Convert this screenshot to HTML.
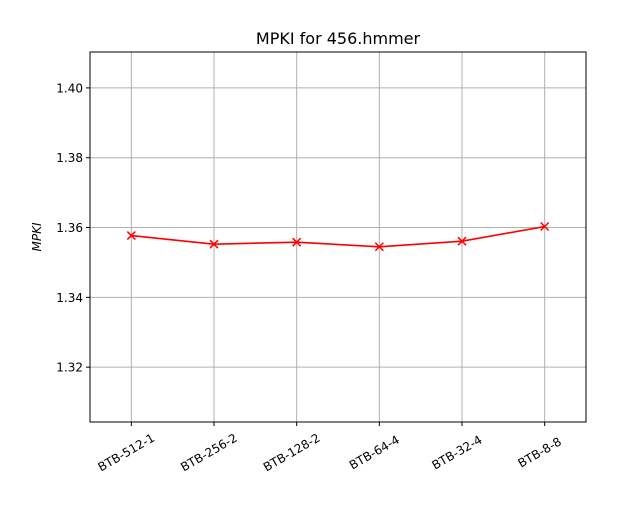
<!DOCTYPE html>
<html><head><meta charset="utf-8"><style>
body{margin:0;background:#fff;font-family:"Liberation Sans","DejaVu Sans",sans-serif;}
svg text{font-family:"DejaVu Sans","Liberation Sans",sans-serif;}
</style></head><body>
<svg id="chart" width="619" height="505" xmlns="http://www.w3.org/2000/svg">
<rect width="619" height="505" fill="#fff"/>
<text x="338" y="44" text-anchor="middle" font-size="16">MPKI for 456.hmmer</text>
<g id="grid"></g>
<g id="series"></g>
<rect x="90" y="52" width="496" height="370" fill="none" stroke="#000" stroke-width="1"/>
<g id="axes"></g>
<text transform="translate(41,237) rotate(-90)" text-anchor="middle" font-size="12" font-style="italic">MPKI</text>
</svg>
<script>
const categories=["BTB-512-1","BTB-256-2","BTB-128-2","BTB-64-4","BTB-32-4","BTB-8-8"];
const mpki=[1.35771,1.35523,1.3558,1.35449,1.35609,1.36029];
const yTicks=[1.32,1.34,1.36,1.38,1.40];
const yTickLabels=["1.32","1.34","1.36","1.38","1.40"];
const NS="http://www.w3.org/2000/svg";
const L=90,R=586,T=52,B=422;
const yMin=1.30429,yMax=1.41029;
function xs(i){return L+(i+0.5)*(R-L)/categories.length;}
function ys(v){return B-(v-yMin)/(yMax-yMin)*(B-T);}
function mk(tag,attrs,parent){const e=document.createElementNS(NS,tag);for(const k in attrs)e.setAttribute(k,attrs[k]);parent.appendChild(e);return e;}
const grid=document.getElementById('grid'),axes=document.getElementById('axes'),series=document.getElementById('series');
yTicks.forEach((t,i)=>{const y=ys(t);
 const g=mk('line',{x1:L,x2:R,y1:y,y2:y,stroke:'#b0b0b0','stroke-width':1},grid);
 
 
 const tk=mk('line',{x1:L-4,x2:L,y1:y,y2:y,stroke:'#000'},axes);
 
 
 const tx=mk('text',{x:L-7,y:y+4.5,'text-anchor':'end','font-size':12},axes);tx.textContent=yTickLabels[i];
 
 
});
categories.forEach((c,i)=>{const x=xs(i);
 const g=mk('line',{x1:x,x2:x,y1:T,y2:B,stroke:'#b0b0b0','stroke-width':1},grid);
 
 
 const tk=mk('line',{x1:x,x2:x,y1:B,y2:B+4,stroke:'#000'},axes);
 
 
 const tx=mk('text',{x:0,y:0,'text-anchor':'middle','font-size':12,transform:`translate(${x-3},${B+34}) rotate(-30)`},axes);tx.textContent=c;
 
 
});
const pts=mpki.map((v,i)=>xs(i)+','+ys(v)).join(' ');
const pl=mk('polyline',{points:pts,fill:'none',stroke:'#ff0000','stroke-width':1.6},series);


mpki.forEach((v,i)=>{const x=xs(i),y=ys(v),s=4;
 const m=mk('path',{d:`M${x-s},${y-s}L${x+s},${y+s}M${x-s},${y+s}L${x+s},${y-s}`,stroke:'#ff0000','stroke-width':1.5},series);
 
 
});
</script>
</body></html>
